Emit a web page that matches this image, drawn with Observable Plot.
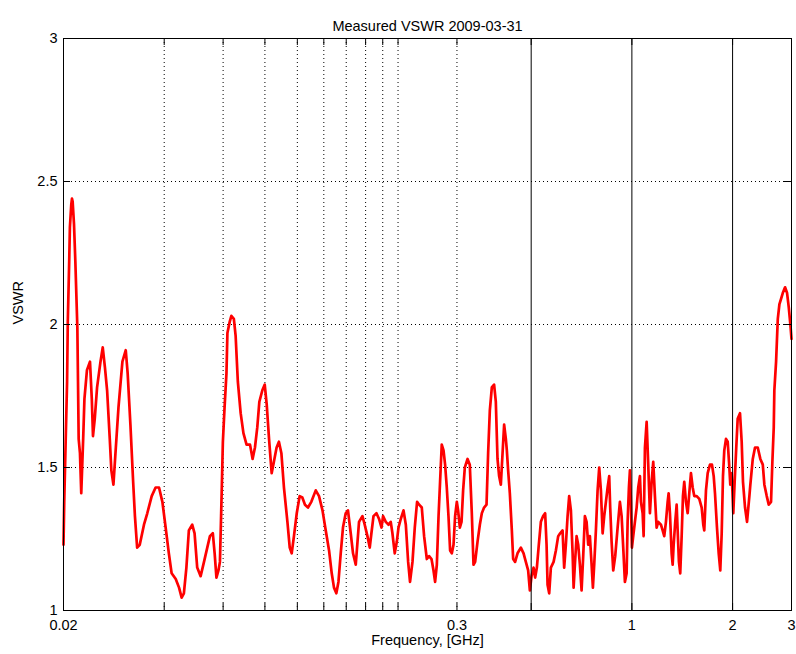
<!DOCTYPE html>
<html>
<head>
<meta charset="utf-8">
<script src="https://cdn.jsdelivr.net/npm/d3@7"></script>
<script src="https://cdn.jsdelivr.net/npm/@observablehq/plot@0.6"></script>
<style>
  html, body { margin: 0; padding: 0; background: #fff; }
  #chart { width: 796px; height: 654px; }
</style>
</head>
<body>
<div id="chart"></div>
<script>
// ---- Data (frequency in GHz, VSWR) ----
const freqA = [0.0200,0.0201,0.0203,0.0205,0.0206,0.0208,0.0209,0.0211,0.0212,0.0213,
               0.0215,0.0217,0.0220,0.0221,0.0222,0.0224,0.0226,0.0229,0.0231,0.0235,
               0.0240,0.0243,0.0245,0.0248,0.0252,0.0258,0.0262,0.0266,0.0270,0.0275,
               0.0278,0.0282,0.0286,0.0292,0.0300,0.0307,0.0311,0.0317,0.0323,0.0327,
               0.0332,0.0338,0.0348,0.0356,0.0367,0.0377,0.0386,0.0395,0.0404,0.0413,
               0.0421,0.0433,0.0443,0.0451,0.0458,0.0466,0.0474,0.0485,0.0493,0.0502,
               0.0514,0.0526,0.0538,0.0548,0.0559,0.0566,0.0573,0.0581,0.0587,0.0594,
               0.0599,0.0606,0.0614,0.0618,0.0628,0.0635,0.0646,0.0654];
const vswrA = [1.23,1.38,1.59,1.80,2.01,2.22,2.34,2.42,2.44,2.43,
               2.35,2.22,1.99,1.80,1.60,1.55,1.41,1.60,1.74,1.84,
               1.87,1.74,1.61,1.67,1.78,1.87,1.92,1.85,1.77,1.60,
               1.49,1.44,1.55,1.71,1.87,1.91,1.83,1.65,1.45,1.33,
               1.22,1.23,1.30,1.34,1.40,1.43,1.43,1.38,1.29,1.20,
               1.13,1.11,1.08,1.045,1.06,1.15,1.28,1.30,1.27,1.15,
               1.12,1.17,1.22,1.26,1.27,1.20,1.115,1.14,1.17,1.41,
               1.59,1.71,1.83,1.97,2.01,2.03,2.02,1.96];

const freqB = [0.0664,0.0677,0.0690,0.0705,0.0722,0.0735,0.0747,0.0759,0.0770,0.0786,
               0.0799,0.0810,0.0823,0.0838,0.0851,0.0867,0.0881,0.0896,0.0912,0.0934,
               0.0949,0.0962,0.0977,0.0996,0.1016,0.1035,0.1054,0.1076,0.1101,0.1135,
               0.1161,0.1189,0.1216,0.1244,0.1267,0.1287,0.1308,0.1327,0.1348,0.1369,
               0.1395,0.1417,0.1444,0.1467,0.1495,0.1513,0.1529,0.1565,0.1590,0.1620,
               0.1646,0.1665,0.1689,0.1724,0.1755,0.1785,0.1804,0.1838,0.1872,0.1902,
               0.1924,0.1955,0.1983,0.2006];
const vswrB = [1.80,1.69,1.62,1.58,1.58,1.53,1.57,1.64,1.73,1.77,
               1.79,1.72,1.60,1.48,1.52,1.57,1.59,1.55,1.43,1.31,
               1.22,1.20,1.26,1.34,1.40,1.395,1.37,1.36,1.38,1.42,
               1.40,1.35,1.28,1.21,1.13,1.08,1.06,1.10,1.20,1.29,
               1.34,1.35,1.27,1.20,1.16,1.24,1.31,1.33,1.30,1.26,
               1.22,1.27,1.33,1.34,1.32,1.29,1.33,1.31,1.30,1.31,
               1.27,1.20,1.24,1.29];

const freqC = [0.2038,0.2077,0.2110,0.2144,0.2172,0.2209,0.2244,0.2280,0.2312,0.2355,
               0.2393,0.2438,0.2477,0.2518,0.2553,0.2581,0.2612,0.2643,0.2671,0.2702,
               0.2735,0.2765,0.2797,0.2830,0.2862,0.2896,0.2930,0.2962,0.2997,0.3024,
               0.3060,0.3096,0.3130,0.3167,0.3227,0.3277,0.3323,0.3362,0.3400,0.3456,
               0.3512,0.3560,0.3616,0.3677,0.3718,0.3762,0.3814,0.3874,0.3920,0.3966,
               0.4010,0.4058,0.4106,0.4151,0.4200,0.4229,0.4267,0.4317,0.4377,0.4417,
               0.4477,0.4552,0.4657,0.4745,0.4820,0.4897,0.4955];
const vswrC = [1.32,1.35,1.30,1.17,1.10,1.17,1.29,1.38,1.37,1.36,
               1.26,1.18,1.19,1.18,1.14,1.10,1.16,1.33,1.45,1.58,
               1.56,1.51,1.43,1.33,1.21,1.20,1.23,1.33,1.38,1.35,
               1.29,1.31,1.42,1.50,1.53,1.51,1.34,1.16,1.17,1.24,
               1.30,1.34,1.36,1.37,1.55,1.70,1.78,1.79,1.73,1.53,
               1.47,1.44,1.55,1.65,1.60,1.56,1.49,1.41,1.28,1.18,
               1.17,1.20,1.22,1.20,1.17,1.14,1.07];

const freqD = [0.5013,0.5083,0.5139,0.5200,0.5261,0.5345,0.5430,0.5505,0.5559,0.5597,
               0.5660,0.5726,0.5834,0.5927,0.6022,0.6104,0.6206,0.6275,0.6349,0.6424,
               0.6495,0.6572,0.6650,0.6696,0.6755,0.6835,0.6911,0.6992,0.7074,0.7153,
               0.7237,0.7322,0.7404,0.7490,0.7579,0.7647,0.7716,0.7806,0.7898,0.7986,
               0.8080,0.8176,0.8266,0.8363,0.8462,0.8555,0.8614,0.8698,0.8795,0.8916,
               0.9065,0.9209,0.9318,0.9422,0.9532,0.9645,0.9711,0.9798,0.9866,0.9934,
               1.0003,1.0093,1.0211,1.0332,1.0447,1.0569,1.0642];
const vswrD = [1.12,1.15,1.115,1.15,1.22,1.31,1.33,1.34,1.23,1.09,
               1.06,1.15,1.17,1.21,1.26,1.27,1.28,1.15,1.23,1.33,
               1.40,1.35,1.20,1.08,1.16,1.26,1.23,1.16,1.07,1.19,
               1.33,1.31,1.23,1.26,1.16,1.08,1.16,1.28,1.42,1.50,
               1.42,1.27,1.33,1.38,1.43,1.47,1.36,1.24,1.14,1.19,
               1.29,1.38,1.33,1.22,1.10,1.13,1.31,1.43,1.49,1.38,
               1.22,1.26,1.31,1.36,1.43,1.47,1.38];

const freqE = [1.0768,1.0843,1.0940,1.1069,1.1191,1.1323,1.1456,1.1584,1.1719,1.1857,
               1.1989,1.2214,1.2358,1.2495,1.2642,1.2791,1.2880,1.2995,1.3148,1.3240,
               1.3331,1.3478,1.3609,1.3703,1.3825,1.3950,1.4086,1.4212,1.4340,1.4509,
               1.4681,1.4844,1.5018,1.5196,1.5364,1.5619,1.5902,1.6167,1.6346,1.6459,
               1.6653,1.6850,1.7118,1.7355,1.7561,1.7718,1.7963,1.8177,1.8376,1.8555,
               1.8721,1.8889,1.9112,1.9338,1.9511,1.9686,1.9877,2.0097,2.0287,2.0512,
               2.0713,2.1045,2.1292,2.1484,2.179,2.209,2.245,2.260,2.298,2.334,
               2.378,2.421,2.462,2.489,2.530,2.565,2.606,2.630,2.655,2.666,
               2.698,2.730,2.760,2.792,2.825,2.870,2.910,2.944,2.977,3.000];
const vswrE = [1.34,1.26,1.57,1.66,1.51,1.34,1.45,1.52,1.40,1.29,
               1.31,1.30,1.28,1.26,1.31,1.38,1.41,1.34,1.20,1.16,
               1.23,1.31,1.37,1.28,1.17,1.13,1.26,1.40,1.45,1.38,
               1.34,1.41,1.48,1.43,1.40,1.40,1.39,1.36,1.30,1.28,
               1.42,1.48,1.51,1.51,1.47,1.41,1.29,1.20,1.14,1.27,
               1.47,1.56,1.60,1.59,1.52,1.44,1.48,1.34,1.45,1.57,
               1.67,1.69,1.59,1.45,1.36,1.31,1.40,1.44,1.53,1.57,
               1.57,1.53,1.51,1.44,1.40,1.37,1.38,1.52,1.64,1.77,
               1.87,2.02,2.07,2.09,2.11,2.13,2.11,2.06,2.00,1.95];

// Axis / grid values
const xTickLabels = [0.02, 0.3, 0.5, 1, 2, 3];
const xDottedGrid = [0.04, 0.06, 0.08, 0.1, 0.12, 0.14, 0.16, 0.18, 0.2, 0.3];
const xSolidLines = [0.5, 1, 2];
const xTickMarks = [0.04, 0.06, 0.08, 0.1, 0.12, 0.14, 0.16, 0.18, 0.2, 0.3, 0.5, 1, 2];
const yTickLabels = [1, 1.5, 2, 2.5, 3];
const yGrid = [1.5, 2, 2.5];

const titleText = "Measured VSWR 2009-03-31";
const xLabelText = "Frequency, [GHz]";
const yLabelText = "VSWR";

// Build the table for the line mark
const freqs = [...freqA, ...freqB, ...freqC, ...freqD, ...freqE];
const vswrs = [...vswrA, ...vswrB, ...vswrC, ...vswrD, ...vswrE];
const data = freqs.map((f, i) => ({f, v: vswrs[i]}));

const frameW = 796 - 63 - 5;
const frameH = 654 - 38 - 44;
const tickLen = 7;

const chart = Plot.plot({
  width: 796,
  height: 654,
  marginTop: 38,
  marginBottom: 44,
  marginLeft: 63,
  marginRight: 5,
  style: {fontFamily: "'Liberation Sans', Arial, Helvetica, sans-serif", fontSize: "14.5px", color: "#000", background: "#fff"},
  x: {type: "log", domain: [0.02, 3], axis: null},
  y: {domain: [1, 3], axis: null},
  marks: [
    // dotted grid
    Plot.ruleX(xDottedGrid, {x: d => d, stroke: "#000", strokeDasharray: "1,3", strokeWidth: 1}),
    Plot.ruleY(yGrid, {y: d => d, stroke: "#000", strokeDasharray: "1,3", strokeWidth: 1}),
    // data line
    Plot.line(data, {x: "f", y: "v", stroke: "#ff0000", strokeWidth: 2.7, strokeLinejoin: "round", strokeLinecap: "round"}),
    // solid vertical markers
    Plot.ruleX(xSolidLines, {x: d => d, stroke: "#000", strokeWidth: 1}),
    // inward tick marks
    Plot.ruleX(xTickMarks, {x: d => d, stroke: "#000", insetTop: frameH - tickLen}),
    Plot.ruleX(xTickMarks, {x: d => d, stroke: "#000", insetBottom: frameH - tickLen}),
    Plot.ruleY(yGrid, {y: d => d, stroke: "#000", insetRight: frameW - tickLen}),
    Plot.ruleY(yGrid, {y: d => d, stroke: "#000", insetLeft: frameW - tickLen}),
    Plot.frame({stroke: "#000", strokeWidth: 1}),
    // axes (labels only)
    Plot.axisX(xTickLabels, {anchor: "bottom", tickSize: 0, tickPadding: 9, tickFormat: d => String(d), label: null, fill: "#000"}),
    Plot.axisY(yTickLabels, {anchor: "left", tickSize: 0, tickPadding: 6, tickFormat: d => String(d), label: null, fill: "#000"}),
    // title and axis titles
    Plot.text([titleText], {text: d => d, frameAnchor: "top", dy: -18, fill: "#000"}),
    Plot.text([xLabelText], {text: d => d, frameAnchor: "bottom", dy: 34, fill: "#000"}),
    Plot.text([yLabelText], {text: d => d, frameAnchor: "left", dx: -45, rotate: -90, fill: "#000"})
  ]
});
document.getElementById("chart").appendChild(chart);
</script>
</body>
</html>
